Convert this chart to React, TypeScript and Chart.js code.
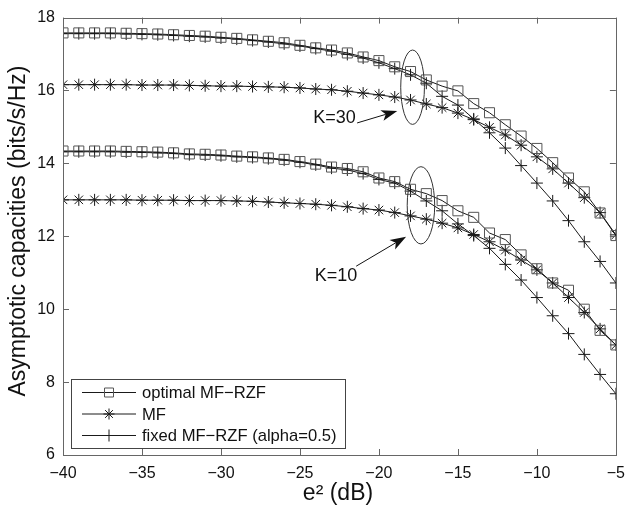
import React, { useEffect, useRef } from 'react';
import { Chart, registerables } from 'chart.js';
Chart.register(...registerables);

// e^2 (dB)
const xValues = [-40, -39, -38, -37, -36, -35, -34, -33, -32, -31, -30, -29, -28, -27, -26, -25, -24, -23, -22, -21, -20, -19, -18, -17, -16, -15, -14, -13, -12, -11, -10, -9, -8, -7, -6, -5];

// K = 30
const optK30 = [17.58, 17.58, 17.58, 17.58, 17.57, 17.56, 17.55, 17.53, 17.51, 17.49, 17.46, 17.43, 17.39, 17.35, 17.31, 17.24, 17.17, 17.11, 17.03, 16.92, 16.82, 16.65, 16.52, 16.29, 16.12, 15.99, 15.64, 15.39, 15.06, 14.75, 14.41, 14.02, 13.60, 13.22, 12.64, 12.02];
const mfK30 = [16.16, 16.16, 16.16, 16.16, 16.16, 16.15, 16.15, 16.15, 16.14, 16.13, 16.12, 16.12, 16.11, 16.10, 16.09, 16.07, 16.04, 16.02, 15.98, 15.93, 15.88, 15.82, 15.74, 15.63, 15.53, 15.38, 15.20, 14.99, 14.78, 14.50, 14.18, 13.85, 13.46, 13.06, 12.65, 12.04];
const fixK30 = [17.56, 17.56, 17.56, 17.56, 17.55, 17.54, 17.53, 17.51, 17.49, 17.47, 17.44, 17.41, 17.37, 17.33, 17.28, 17.22, 17.15, 17.08, 16.99, 16.89, 16.76, 16.60, 16.43, 16.20, 15.84, 15.60, 15.22, 14.84, 14.42, 13.94, 13.46, 12.97, 12.43, 11.85, 11.31, 10.72];

// K = 10
const optK10 = [14.34, 14.34, 14.34, 14.34, 14.33, 14.32, 14.31, 14.29, 14.26, 14.25, 14.23, 14.20, 14.18, 14.15, 14.11, 14.05, 13.98, 13.90, 13.86, 13.77, 13.60, 13.50, 13.29, 13.17, 12.98, 12.70, 12.52, 12.09, 11.91, 11.49, 11.11, 10.72, 10.52, 10.00, 9.42, 9.02];
const mfK10 = [13.00, 13.00, 13.00, 13.00, 13.00, 12.99, 12.99, 12.99, 12.98, 12.98, 12.98, 12.97, 12.96, 12.94, 12.92, 12.90, 12.88, 12.85, 12.81, 12.76, 12.72, 12.65, 12.56, 12.47, 12.36, 12.23, 12.05, 11.85, 11.62, 11.35, 11.08, 10.72, 10.32, 9.91, 9.46, 9.02];
const fixK10 = [14.32, 14.32, 14.32, 14.32, 14.31, 14.30, 14.29, 14.27, 14.24, 14.23, 14.21, 14.18, 14.16, 14.13, 14.09, 14.03, 13.96, 13.87, 13.82, 13.72, 13.56, 13.46, 13.24, 12.97, 12.70, 12.34, 12.02, 11.67, 11.23, 10.80, 10.32, 9.82, 9.33, 8.76, 8.21, 7.68];

const xTicks = [-40, -35, -30, -25, -20, -15, -10, -5];
const yTicks = [6, 8, 10, 12, 14, 16, 18];

const legendLabels = ['optimal MF\u2212RZF', 'MF', 'fixed MF\u2212RZF (alpha=0.5)'];
const legendMarkers = ['rect', 'star', 'cross'];

// annotations in data coordinates
const annotLabels = ['K=30', 'K=10'];
const annotTextPos = [[-22.81, 15.25], [-22.72, 10.92]];
const annotArrowFrom = [[-21.38, 15.11], [-21.44, 11.18]];
const annotArrowTo = [[-18.84, 15.44], [-18.28, 11.99]];
const ellipseCenter = [[-17.87, 16.09], [-17.34, 12.85]];
const ellipseRadii = [[0.75, 1.02], [0.87, 1.06]];

const FONT = '"Liberation Sans", Arial, Helvetica, sans-serif';
const LINE = '#1a1a1a';
const SQ = '#555555';
const AXIS = '#666666';

function fmt(v: number) {
  return v < 0 ? '\u2212' + Math.abs(v) : String(v);
}

function drawMarker(ctx: CanvasRenderingContext2D, style: string, x: number, y: number) {
  ctx.beginPath();
  if (style === 'rect') {
    ctx.strokeStyle = SQ;
    ctx.rect(x - 4.5, y - 4.5, 9, 9);
  } else if (style === 'star') {
    ctx.strokeStyle = LINE;
    const r = 5.5;
    const d = r * Math.SQRT1_2;
    ctx.moveTo(x - r, y); ctx.lineTo(x + r, y);
    ctx.moveTo(x, y - r); ctx.lineTo(x, y + r);
    ctx.moveTo(x - d, y - d); ctx.lineTo(x + d, y + d);
    ctx.moveTo(x - d, y + d); ctx.lineTo(x + d, y - d);
  } else {
    ctx.strokeStyle = LINE;
    ctx.moveTo(x - 6, y); ctx.lineTo(x + 6, y);
    ctx.moveTo(x, y - 6); ctx.lineTo(x, y + 6);
  }
  ctx.stroke();
}

const overlay = {
  id: 'overlay',
  afterDraw(chart: any) {
    const ctx: CanvasRenderingContext2D = chart.ctx;
    const { left, right, top, bottom } = chart.chartArea;
    const xs = chart.scales.x;
    const ys = chart.scales.y;
    ctx.save();
    // box
    ctx.strokeStyle = AXIS;
    ctx.lineWidth = 1;
    ctx.strokeRect(Math.round(left) + 0.5, Math.round(top) + 0.5, Math.round(right - left), Math.round(bottom - top));
    // inward ticks
    ctx.beginPath();
    xTicks.forEach((t) => {
      const px = Math.round(xs.getPixelForValue(t)) + 0.5;
      ctx.moveTo(px, bottom); ctx.lineTo(px, bottom - 6);
      ctx.moveTo(px, top); ctx.lineTo(px, top + 6);
    });
    yTicks.forEach((t) => {
      const py = Math.round(ys.getPixelForValue(t)) + 0.5;
      ctx.moveTo(left, py); ctx.lineTo(left + 6, py);
      ctx.moveTo(right, py); ctx.lineTo(right - 6, py);
    });
    ctx.stroke();

    // ellipses
    ctx.strokeStyle = '#333';
    ctx.lineWidth = 1;
    ellipseCenter.forEach((c, i) => {
      const cx = xs.getPixelForValue(c[0]);
      const cy = ys.getPixelForValue(c[1]);
      const rx = Math.abs(xs.getPixelForValue(c[0] + ellipseRadii[i][0]) - cx);
      const ry = Math.abs(ys.getPixelForValue(c[1] + ellipseRadii[i][1]) - cy);
      ctx.beginPath();
      ctx.ellipse(cx, cy, rx, ry, 0, 0, Math.PI * 2);
      ctx.stroke();
    });

    // arrows
    annotArrowFrom.forEach((f, i) => {
      const x1 = xs.getPixelForValue(f[0]);
      const y1 = ys.getPixelForValue(f[1]);
      const x2 = xs.getPixelForValue(annotArrowTo[i][0]);
      const y2 = ys.getPixelForValue(annotArrowTo[i][1]);
      const ang = Math.atan2(y2 - y1, x2 - x1);
      const hl = 16, hw = 5.5;
      const bx = x2 - hl * Math.cos(ang);
      const by = y2 - hl * Math.sin(ang);
      ctx.strokeStyle = '#111';
      ctx.fillStyle = '#111';
      ctx.beginPath();
      ctx.moveTo(x1, y1); ctx.lineTo(bx + 4 * Math.cos(ang), by + 4 * Math.sin(ang));
      ctx.stroke();
      ctx.beginPath();
      ctx.moveTo(x2, y2);
      ctx.lineTo(bx + hw * Math.sin(ang), by - hw * Math.cos(ang));
      ctx.lineTo(bx + 4 * Math.cos(ang), by + 4 * Math.sin(ang));
      ctx.lineTo(bx - hw * Math.sin(ang), by + hw * Math.cos(ang));
      ctx.closePath();
      ctx.fill();
    });

    // annotation text
    ctx.font = `18px ${FONT}`;
    ctx.fillStyle = '#111';
    ctx.textAlign = 'center';
    ctx.textBaseline = 'middle';
    annotLabels.forEach((s, i) => {
      ctx.fillText(s, xs.getPixelForValue(annotTextPos[i][0]), ys.getPixelForValue(annotTextPos[i][1]));
    });

    // legend
    const lx = 71.5, ly = 379.5, lw = 274, lh = 69;
    ctx.fillStyle = '#fff';
    ctx.fillRect(lx, ly, lw, lh);
    ctx.strokeStyle = '#444';
    ctx.strokeRect(lx, ly, lw, lh);
    legendLabels.forEach((s, i) => {
      const ry = 392.5 + i * 21.5;
      ctx.strokeStyle = LINE;
      ctx.beginPath();
      ctx.moveTo(82, ry); ctx.lineTo(136, ry);
      ctx.stroke();
      drawMarker(ctx, legendMarkers[i], 109, ry);
      ctx.fillStyle = '#111';
      ctx.textAlign = 'left';
      ctx.textBaseline = 'middle';
      ctx.font = `16.6px ${FONT}`;
      ctx.fillText(s, 142, ry + 1);
    });

    // axis titles
    ctx.fillStyle = '#111';
    ctx.font = `23px ${FONT}`;
    ctx.textAlign = 'center';
    ctx.textBaseline = 'middle';
    ctx.save();
    ctx.translate(19, 231);
    ctx.rotate(-Math.PI / 2);
    ctx.fillText('Asymptotic capacities (bits/s/Hz)', 0, 0);
    ctx.restore();
    ctx.fillText('e\u00B2 (dB)', 338, 494);
    ctx.restore();
  },
};

function mkData(arr: number[]) {
  return xValues.map((x, i) => ({ x, y: arr[i] }));
}

export default function App() {
  const ref = useRef<HTMLCanvasElement | null>(null);
  useEffect(() => {
    if (!ref.current) return;
    const sqSet = (arr: number[]) => ({
      data: mkData(arr), borderColor: LINE, borderWidth: 1, pointStyle: 'rect', pointRadius: 7.1,
      pointBorderColor: SQ, pointBackgroundColor: 'rgba(0,0,0,0)', pointBorderWidth: 1, tension: 0,
    });
    const starSet = (arr: number[]) => ({
      data: mkData(arr), borderColor: LINE, borderWidth: 1, pointStyle: 'star', pointRadius: 6,
      pointBorderColor: LINE, pointBackgroundColor: 'rgba(0,0,0,0)', pointBorderWidth: 1, tension: 0,
    });
    const crossSet = (arr: number[]) => ({
      data: mkData(arr), borderColor: LINE, borderWidth: 1, pointStyle: 'cross', pointRadius: 6,
      pointBorderColor: LINE, pointBackgroundColor: 'rgba(0,0,0,0)', pointBorderWidth: 1, tension: 0,
    });
    const chart = new Chart(ref.current, {
      type: 'line',
      data: {
        datasets: [
          sqSet(optK30), starSet(mfK30), crossSet(fixK30),
          sqSet(optK10), starSet(mfK10), crossSet(fixK10),
        ] as any,
      },
      options: {
        animation: false,
        responsive: false,
        devicePixelRatio: 1,
        layout: { padding: { top: 10, right: 7, left: 0, bottom: 0 } },
        plugins: { legend: { display: false }, tooltip: { enabled: false } },
        scales: {
          x: {
            type: 'linear', min: -40, max: -5,
            afterFit: (s: any) => { s.height = 59; },
            afterBuildTicks: (s: any) => { s.ticks = xTicks.map((v) => ({ value: v })); },
            grid: { display: false, drawTicks: false },
            border: { display: false },
            ticks: { padding: 9, color: '#111', font: { family: FONT, size: 16 }, callback: (v: any) => fmt(Number(v)), maxRotation: 0, autoSkip: false },
          },
          y: {
            type: 'linear', min: 6, max: 18,
            afterFit: (s: any) => { s.width = 63; },
            afterBuildTicks: (s: any) => { s.ticks = yTicks.map((v) => ({ value: v })); },
            grid: { display: false, drawTicks: false },
            border: { display: false },
            ticks: { padding: 8, color: '#111', font: { family: FONT, size: 16 }, callback: (v: any) => fmt(Number(v)) },
          },
        },
      } as any,
      plugins: [overlay],
    });
    return () => chart.destroy();
  }, []);
  return (
    <div style={{ position: 'fixed', left: 0, top: 0, width: 634, height: 514, background: '#fff' }}>
      <canvas ref={ref} width={634} height={514} style={{ width: 634, height: 514 }} />
    </div>
  );
}
